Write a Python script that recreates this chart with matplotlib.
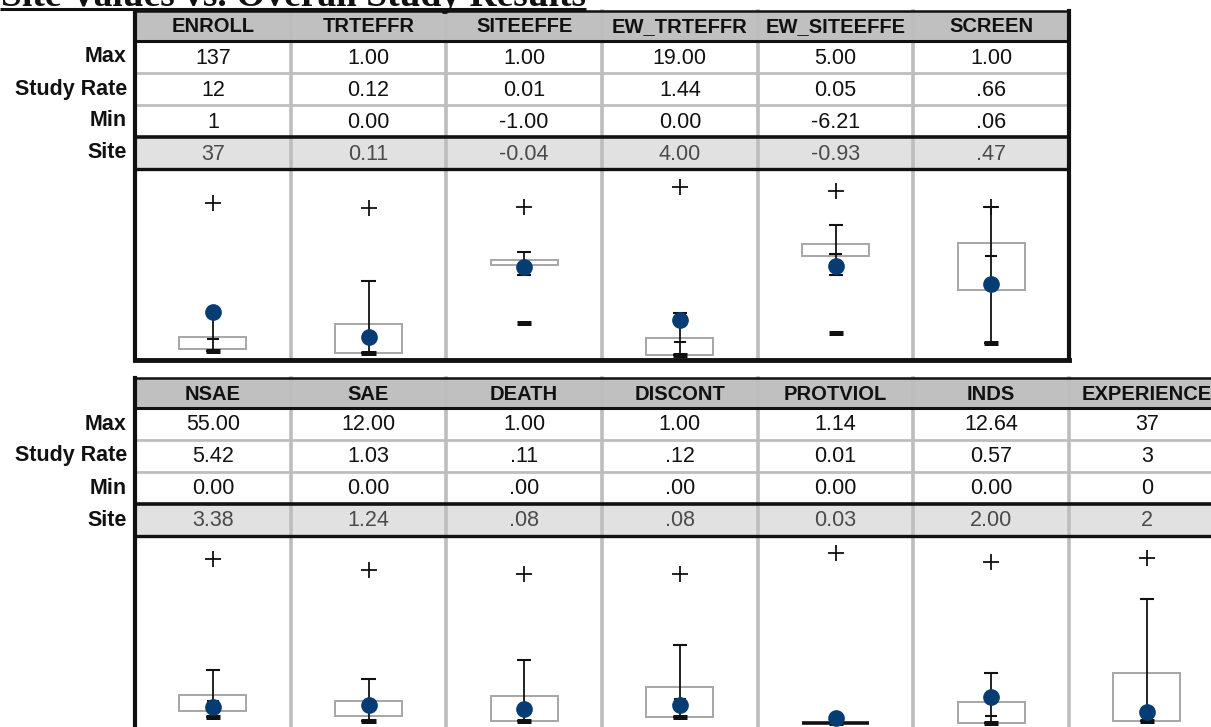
import matplotlib
matplotlib.use("Agg")
import matplotlib.pyplot as plt
from matplotlib.patches import Rectangle

W, H = 1211, 727

# ---- upper block --------------------------------------------------------
top_vars = ["ENROLL", "TRTEFFR", "SITEEFFE", "EW_TRTEFFR", "EW_SITEEFFE", "SCREEN"]
top_fmt = ["d", "f2", "f2", "f2", "f2", "p2"]
top_max = [137, 1.00, 1.00, 19.00, 5.00, 1.00]
top_rate = [12, 0.12, 0.01, 1.44, 0.05, 0.66]
top_min = [1, 0.00, -1.00, 0.00, -6.21, 0.06]
top_site = [37, 0.11, -0.04, 4.00, -0.93, 0.47]
# distribution of site values (box = quartiles, whisker ends)
top_q1 = [3, 0.0, 0.0, 0.0, -0.12, 0.43]
top_q3 = [14, 0.20, 0.09, 1.95, 0.84, 0.75]
top_lo = [1, 0.0, -0.17, 0.0, -1.65, 0.06]
top_hi = [36, 0.50, 0.23, 4.8, 2.36, 1.00]
top_range = [(-7.4, 168.7), (-0.049, 1.273), (-1.649, 1.667),
             (-0.57, 21.06), (-8.37, 6.76), (-0.059, 1.267)]

# ---- lower block --------------------------------------------------------
bot_vars = ["NSAE", "SAE", "DEATH", "DISCONT", "PROTVIOL", "INDS", "EXPERIENCE"]
bot_fmt = ["f2", "f2", "p2", "p2", "f2", "f2", "d"]
bot_max = [55.00, 12.00, 1.00, 1.00, 1.14, 12.64, 37]
bot_rate = [5.42, 1.03, 0.11, 0.12, 0.01, 0.57, 3]
bot_min = [0.00, 0.00, 0.00, 0.00, 0.00, 0.00, 0]
bot_site = [3.38, 1.24, 0.08, 0.08, 0.03, 2.00, 2]
bot_q1 = [1.8, 0.4, 0.0, 0.0, 0.0, 0.0, 0.0]
bot_q3 = [7.5, 1.54, 0.17, 0.21, 0.0, 1.61, 10.9]
bot_lo = [0.0, 0.0, 0.0, 0.0, 0.0, 0.0, 0.0]
bot_hi = [16.4, 3.32, 0.41, 0.50, 0.0, 3.94, 27.7]
bot_range = [(-6.43, 63.2), (-1.135, 14.68), (-0.097, 1.257), (-0.129, 1.264),
             (-0.082, 1.257), (-0.966, 14.73), (-3.26, 42.1)]

row_names = ["Max", "Study Rate", "Min", "Site"]

HEAD_GRAY = "#c0c0c0"
SITE_GRAY = "#e1e1e1"
GRID_GRAY = "#bdbdbd"
DARK = "#111111"
DOT = "#053c73"
FONT = "Liberation Sans"


def fmt(v, kind):
    if kind == "d":
        return f"{v:.0f}"
    s = f"{v:.2f}"
    if kind == "p2":
        s = s.replace("0.", ".", 1) if abs(v) < 1 else s
    return s


fig = plt.figure(figsize=(W / 100, H / 100), dpi=100)
ax = fig.add_axes([0, 0, 1, 1])
ax.set_xlim(0, W)
ax.set_ylim(H, 0)
ax.axis("off")

title = ax.text(1, 6, "Site Values vs. Overall Study Results", family="Liberation Serif",
                weight="bold", fontsize=27, color="#111111", va="baseline", ha="left")
fig.canvas.draw()
bb = title.get_window_extent(fig.canvas.get_renderer())
tx0, _ = ax.transData.inverted().transform((bb.x0, 0))
tx1, _ = ax.transData.inverted().transform((bb.x1, 0))
ax.plot([tx0 - 1, tx1], [8.8, 8.8], color=DARK, lw=2.2, solid_capstyle="butt")


def block(y0, names, fmts, vmax, rate, vmin, site, q1, q3, lo, hi, yrange, plot_bottom):
    x0 = 135
    cw = 155.67
    rh = 32
    n = len(names)
    x1 = x0 + n * cw
    head = (y0, y0 + 30)
    rows = [head[1] + i * rh for i in range(5)]
    plot_top = rows[4]

    ax.add_patch(Rectangle((x0, head[0]), n * cw, head[1] - head[0], fc=HEAD_GRAY, ec="none"))
    ax.add_patch(Rectangle((x0, rows[3]), n * cw, rh, fc=SITE_GRAY, ec="none"))

    # light grid
    for i in range(1, n):
        ax.plot([x0 + i * cw] * 2, [head[0], plot_bottom], color=GRID_GRAY, lw=2.6, zorder=1)
    for r in rows[1:3]:
        ax.plot([x0, x1], [r, r], color=GRID_GRAY, lw=2.0, zorder=1)

    # dark rules
    for r, lw in [(head[0], 1.8), (head[1], 2.2), (rows[3], 2.6), (rows[4], 2.4)]:
        ax.plot([x0, x1], [r, r], color=DARK, lw=lw, zorder=2, solid_capstyle="butt")
    ax.plot([x0, x0], [head[0], plot_bottom], color=DARK, lw=3, zorder=2)
    ax.plot([x1, x1], [head[0], plot_bottom], color=DARK, lw=3, zorder=2)
    ax.plot([x0, x1], [plot_bottom, plot_bottom], color=DARK, lw=3.5, zorder=2,
            solid_capstyle="projecting")

    for j, name in enumerate(row_names):
        ax.text(127, rows[j] + rh / 2, name, ha="right", va="center", family=FONT,
                weight="bold", fontsize=15.5, color=DARK)

    for i in range(n):
        cx = x0 + (i + 0.5) * cw
        ax.text(cx, (head[0] + head[1]) / 2 + 1, names[i], ha="center", va="center",
                family=FONT, weight="bold", fontsize=14.5, color=DARK)
        vals = [vmax[i], rate[i], vmin[i], site[i]]
        for j, v in enumerate(vals):
            ax.text(cx, rows[j] + rh / 2 + 1, fmt(v, fmts[i]), ha="center", va="center",
                    family=FONT, fontsize=15.5, color="#4a4a4a" if j == 3 else DARK)

        # glyph panel for this variable
        g = fig.add_axes([(x0 + i * cw) / W, 1 - plot_bottom / H, cw / W,
                          (plot_bottom - plot_top) / H])
        g.set_xlim(-1, 1)
        g.set_ylim(*yrange[i])
        g.axis("off")
        g.patch.set_visible(False)
        bw, cap = 0.43, 0.09
        if q3[i] > q1[i]:
            g.add_patch(Rectangle((-bw, q1[i]), 2 * bw, q3[i] - q1[i], fc="none",
                                  ec="#a6a6a6", lw=1.4, zorder=2))
        else:
            g.hlines(q1[i], -bw, bw, color=DARK, lw=2.6, zorder=2)
        g.vlines(0, lo[i], hi[i], color=DARK, lw=1.3, zorder=3)
        g.hlines([lo[i], hi[i]], -cap, cap, color=DARK, lw=1.5, zorder=3)
        g.hlines(vmin[i], -cap, cap, color=DARK, lw=3.6, zorder=3)
        g.hlines(rate[i], -cap * 0.9, cap * 0.9, color=DARK, lw=1.5, zorder=3)
        g.plot(0, vmax[i], marker="+", ms=12, mew=1.3, color=DARK, zorder=4)
        g.plot(0, site[i], marker="o", ms=11, color=DOT, mec=DOT, zorder=5)


block(11, top_vars, top_fmt, top_max, top_rate, top_min, top_site,
      top_q1, top_q3, top_lo, top_hi, top_range, 360)
block(378, bot_vars, bot_fmt, bot_max, bot_rate, bot_min, bot_site,
      bot_q1, bot_q3, bot_lo, bot_hi, bot_range, 735)

fig.savefig("out.png", dpi=100)
